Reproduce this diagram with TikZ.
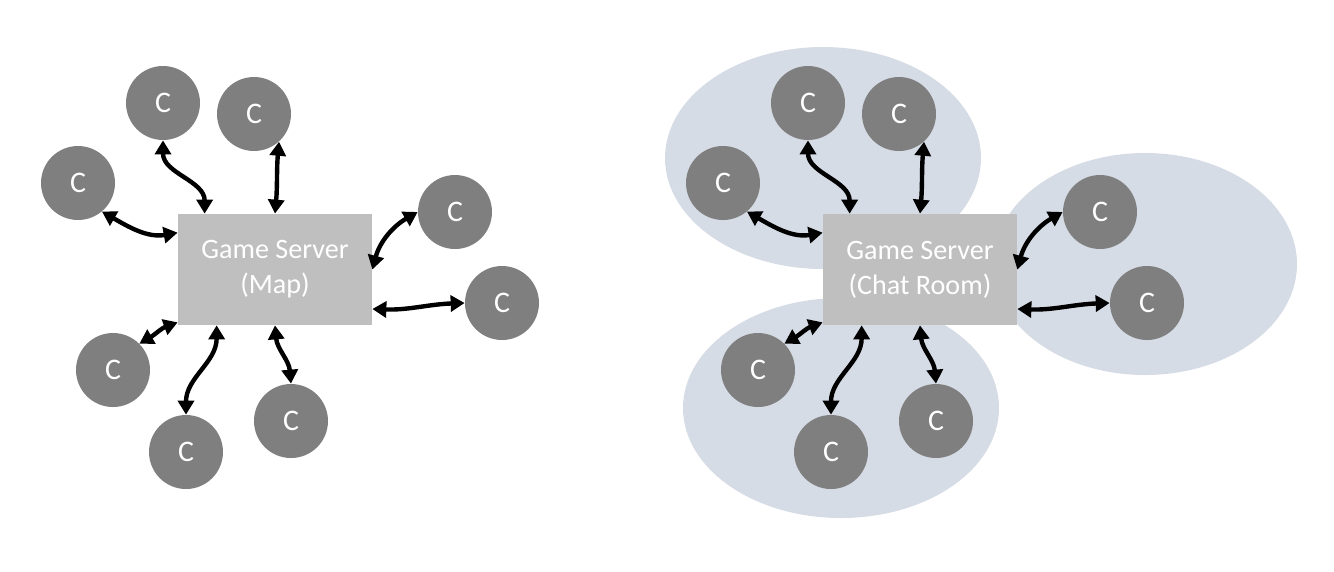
\documentclass[tikz,border=0pt]{standalone}
\usepackage{fontspec}
\setmainfont{Carlito}
\usepackage{tikz}
\usetikzlibrary{arrows.meta}

\definecolor{clientgray}{HTML}{7F7F7F}
\definecolor{servergray}{HTML}{BFBFBF}
\definecolor{groupblue}{HTML}{D6DCE5}

\begin{document}
\begin{tikzpicture}[
    client/.style={circle, fill=clientgray, minimum size=1.48cm, inner sep=0pt, text=white, font=\fontsize{17}{20}\selectfont},
    server/.style={rectangle, fill=servergray, minimum width=3.88cm, minimum height=2.22cm, align=center, text=white, font=\fontsize{16}{20}\selectfont},
    link/.style={{Triangle[length=2.8mm,width=3.2mm]}-{Triangle[length=2.8mm,width=3.2mm]}, line width=2.5pt}
]
    \useasboundingbox (0,0) rectangle (26.68,-11.42);

    % Chat room groups (right side only)
    \fill[groupblue] (16.46,-3.16) ellipse [x radius=3.16, y radius=2.22];
    \fill[groupblue] (22.9,-5.28) ellipse [x radius=3.04, y radius=2.22];
    \fill[groupblue] (16.82,-8.16) ellipse [x radius=3.16, y radius=2.2];

    % Two servers with the same ring of clients
    \foreach \s/\dx/\room in {l/0/Map,r/12.9/Chat Room} {
    \begin{scope}[xshift=\dx cm]
        \node[server] (\s srv) at (5.5,-5.39) {Game Server\\(\room)};

        \node[client] (\s1) at (1.56,-3.66) {C};
        \node[client] (\s2) at (3.26,-2.06) {C};
        \node[client] (\s3) at (5.08,-2.28) {C};
        \node[client] (\s4) at (9.10,-4.24) {C};
        \node[client] (\s5) at (10.04,-6.06) {C};
        \node[client] (\s6) at (2.26,-7.40) {C};
        \node[client] (\s7) at (3.72,-9.04) {C};
        \node[client] (\s8) at (5.82,-8.42) {C};

        % Links to the server
        \draw[link] (\s1.-50) to[out=-30,in=190] ([yshift=-3.8mm]\s srv.north west);
        \draw[link] (\s2.south) to[out=-90,in=90] ([xshift=5.4mm]\s srv.north west);
        \draw[link] (\s3.-48) to[out=-95,in=85] (\s srv.north);
        \draw[link] (\s4.west) to[out=210,in=75] (\s srv.east);
        \draw[link] (\s5.west) to[out=182,in=-2] ([yshift=-7.9mm]\s srv.east);
        \draw[link] (\s6.45) to[out=30,in=200] ([yshift=0.6mm]\s srv.south west);
        \draw[link] (\s7.north) to[out=90,in=-90] ([xshift=7.8mm]\s srv.south west);
        \draw[link] (\s8.north) to[out=95,in=-85] (\s srv.south);
    \end{scope}
    }
\end{tikzpicture}
\end{document}
